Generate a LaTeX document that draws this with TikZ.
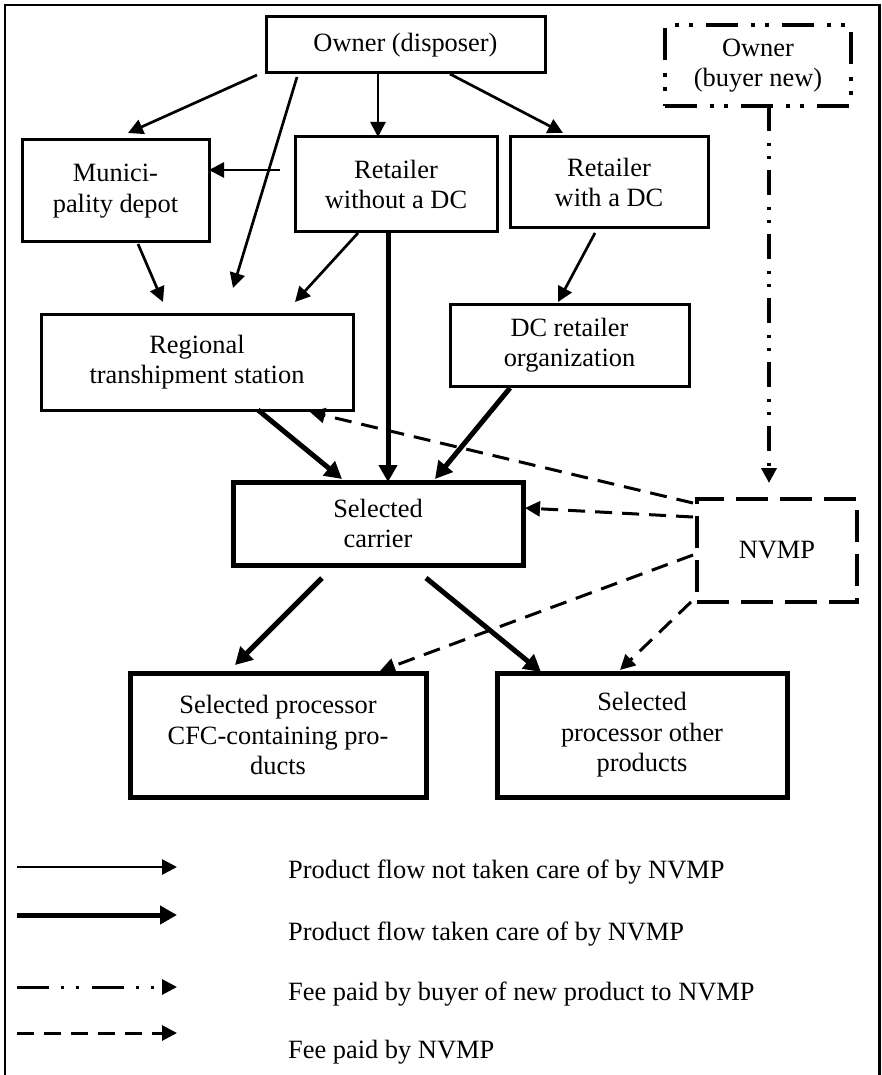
\documentclass[tikz,border=0pt]{standalone}
\usepackage{fontspec}
\setmainfont{Liberation Serif}
\usetikzlibrary{arrows.meta}
\begin{document}
\begin{tikzpicture}[x=1pt,y=-1pt,
  font=\fontsize{26.4}{30.5}\selectfont,
  box/.style={draw, line width=3pt, inner sep=0pt, align=center},
  heavybox/.style={box, line width=5pt},
  nvmpbox/.style={box, line width=3.5pt, dash pattern=on 32pt off 12pt},
  buyerbox/.style={box, line width=4pt, dash pattern=on 32pt off 13pt on 4pt off 10pt on 4pt off 13pt},
  flow/.style={line width=2.7pt, -{Triangle[length=15pt,width=15pt]}},
  nvmpflow/.style={line width=5pt, -{Triangle[length=17pt,width=18pt]}},
  fee/.style={line width=3pt, dash pattern=on 17pt off 10pt, -{Triangle[length=15pt,width=15pt]}},
  buyerfee/.style={line width=4pt, dash pattern=on 25pt off 12pt on 3pt off 10pt on 3pt off 11pt, -{Triangle[length=15pt,width=15pt]}},
  legendfee/.style={line width=3pt, dash pattern=on 32pt off 12pt on 3pt off 12pt on 3pt off 13pt, -{Triangle[length=15pt,width=15pt]}},
  legendtext/.style={anchor=base west, inner sep=0pt}]

\useasboundingbox (0,0) rectangle (882,1075);

% outer frame (open at the bottom)
\draw[line width=2.6pt] (5,1080) -- (5,5) -- (879.5,5) -- (879.5,1080);

% boxes
\node[box, minimum width=279pt, minimum height=56pt] (owner) at (405.5,45) {Owner (disposer)};
\node[buyerbox, minimum width=186pt, minimum height=81pt] (buyer) at (758,65.5) {Owner\\(buyer new)};
\node[box, minimum width=187pt, minimum height=102pt] (muni) at (115.5,191) {Munici-\\pality depot};
\node[box, minimum width=202pt, minimum height=95pt] (rwo) at (396,184.5) {Retailer\\without a DC};
\node[box, minimum width=198pt, minimum height=91pt] (rw) at (609,182.5) {Retailer\\with a DC};
\node[box, minimum width=312pt, minimum height=96pt] (regional) at (197,362) {Regional\\transhipment station};
\node[box, minimum width=239pt, minimum height=82pt] (dcorg) at (569.5,345) {DC retailer\\organization};
\node[heavybox, minimum width=290pt, minimum height=83pt] (carrier) at (378,523.5) {Selected\\carrier};
\node[nvmpbox, minimum width=160pt, minimum height=103pt] (nvmp) at (777,550.5) {NVMP};
\node[heavybox, minimum width=296pt, minimum height=124pt] (cfc) at (278,735) {Selected processor\\CFC-containing pro-\\ducts};
\node[heavybox, minimum width=290pt, minimum height=124pt] (other) at (642,735) {Selected\\processor other\\products};

% connector end points
\coordinate (owner-muni) at (257,75);   \coordinate (muni-in) at (128,133);
\coordinate (owner-reg) at (297,77);    \coordinate (reg-in-owner) at (233,288);
\coordinate (owner-rwo) at (378,73);    \coordinate (rwo-in) at (378,137);
\coordinate (owner-rw) at (450,74);     \coordinate (rw-in) at (563,133);
\coordinate (rwo-muni) at (280,170);    \coordinate (muni-in-rwo) at (209,170);
\coordinate (muni-reg) at (138,244);    \coordinate (reg-in-muni) at (163,302);
\coordinate (rwo-reg) at (358,233);     \coordinate (reg-in-rwo) at (295,302);
\coordinate (rwo-car) at (388,232);     \coordinate (car-in-rwo) at (388,482);
\coordinate (rw-dc) at (595,233);       \coordinate (dc-in) at (558,302);
\coordinate (reg-car) at (258,410);     \coordinate (car-in-reg) at (342,479);
\coordinate (dc-car) at (510,388);      \coordinate (car-in-dc) at (435,479);
\coordinate (car-cfc) at (322,578);     \coordinate (cfc-in) at (235,665);
\coordinate (car-oth) at (426,578);     \coordinate (oth-in) at (541,672);
\coordinate (nv-reg) at (693,503);      \coordinate (reg-in-nv) at (310,412);
\coordinate (nv-car) at (693,517);      \coordinate (car-in-nv) at (525,508);
\coordinate (nv-cfc) at (693,555);      \coordinate (cfc-in-nv) at (380,671);
\coordinate (nv-oth) at (691,602);      \coordinate (oth-in-nv) at (620,670);
\coordinate (buyer-nv) at (769,106);    \coordinate (nv-in) at (769,483);

% product flow not handled by NVMP
\draw[flow] (owner-muni) -- (muni-in);
\draw[flow] (owner-reg) -- (reg-in-owner);
\draw[flow] (owner-rwo) -- (rwo-in);
\draw[flow] (owner-rw) -- (rw-in);
\draw[flow] (rwo-muni) -- (muni-in-rwo);
\draw[flow] (muni-reg) -- (reg-in-muni);
\draw[flow] (rwo-reg) -- (reg-in-rwo);
\draw[flow] (rw-dc) -- (dc-in);

% product flow handled by NVMP
\draw[nvmpflow] (rwo-car) -- (car-in-rwo);
\draw[nvmpflow] (reg-car) -- (car-in-reg);
\draw[nvmpflow] (dc-car) -- (car-in-dc);
\draw[nvmpflow] (car-cfc) -- (cfc-in);
\draw[nvmpflow] (car-oth) -- (oth-in);

% fees
\draw[fee] (nv-reg) -- (reg-in-nv);
\draw[fee] (nv-car) -- (car-in-nv);
\draw[fee] (nv-cfc) -- (cfc-in-nv);
\draw[fee] (nv-oth) -- (oth-in-nv);
\draw[buyerfee] (buyer-nv) -- (nv-in);

% legend
\coordinate (l1a) at (17,867);  \coordinate (l1b) at (177,867);
\coordinate (l2a) at (17,915);  \coordinate (l2b) at (177,915);
\coordinate (l3a) at (17,987);  \coordinate (l3b) at (177,987);
\coordinate (l4a) at (17,1033); \coordinate (l4b) at (177,1033);
\draw[flow] (l1a) -- (l1b);
\draw[nvmpflow] (l2a) -- (l2b);
\draw[legendfee] (l3a) -- (l3b);
\draw[fee] (l4a) -- (l4b);
\node[legendtext] (t1) at (288,878) {Product flow not taken care of by NVMP};
\node[legendtext] (t2) at (288,940) {Product flow taken care of by NVMP};
\node[legendtext] (t3) at (288,1000) {Fee paid by buyer of new product to NVMP};
\node[legendtext] (t4) at (288,1058) {Fee paid by NVMP};
\end{tikzpicture}
\end{document}
